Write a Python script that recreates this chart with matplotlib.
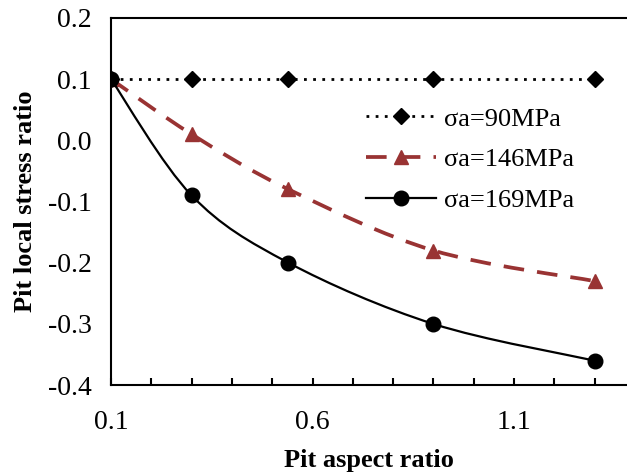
import numpy as np
import matplotlib
matplotlib.use("Agg")
import matplotlib.pyplot as plt
from matplotlib.path import Path
from matplotlib.patches import PathPatch
from matplotlib.ticker import MultipleLocator, FixedLocator

plt.rcParams['font.family'] = ['Liberation Serif', 'DejaVu Serif']

# data
aspect = [0.1, 0.3, 0.54, 0.9, 1.3]
s90 = [0.1, 0.1, 0.1, 0.1, 0.1]
s146 = [0.1, 0.01, -0.08, -0.18, -0.23]
s169 = [0.1, -0.09, -0.2, -0.3, -0.36]
labels = ['σa=90MPa', 'σa=146MPa', 'σa=169MPa']


def smooth_path(x, y):
    # Catmull-Rom style bezier, similar to Excel "smoothed line"
    x = np.asarray(x, float)
    y = np.asarray(y, float)
    verts = [(x[0], y[0])]
    codes = [Path.MOVETO]
    n = len(x)
    for i in range(n - 1):
        p0 = np.array([x[max(i - 1, 0)], y[max(i - 1, 0)]])
        p1 = np.array([x[i], y[i]])
        p2 = np.array([x[i + 1], y[i + 1]])
        p3 = np.array([x[min(i + 2, n - 1)], y[min(i + 2, n - 1)]])
        c1 = p1 + (p2 - p0) / 6.0
        c2 = p2 - (p3 - p1) / 6.0
        verts += [tuple(c1), tuple(c2), tuple(p2)]
        codes += [Path.CURVE4] * 3
    return Path(verts, codes)


fig = plt.figure(figsize=(6.27, 4.72), dpi=100)
ax = fig.add_axes([0.177, 0.184, 0.823, 0.778])

red = '#993333'
dash = (0, (5.5, 3.5))
dots = (0, (1, 2.3))

ax.plot(aspect, s90, color='black', linestyle=dots, linewidth=2,
        marker='D', markersize=8, label=labels[0], zorder=3)

ax.add_patch(PathPatch(smooth_path(aspect, s146), fill=False, edgecolor=red,
                       linewidth=2.7, linestyle=dash, zorder=3))
ax.plot(aspect, s146, linestyle='none', marker='^', color=red,
        markersize=10, zorder=4)
ax.plot([], [], color=red, linewidth=2.7, linestyle=dash,
        marker='^', markersize=10, label=labels[1])

ax.add_patch(PathPatch(smooth_path(aspect, s169), fill=False,
                       edgecolor='black', linewidth=1.6, zorder=5))
ax.plot(aspect, s169, linestyle='none', marker='o', color='black',
        markersize=10.5, zorder=6)
ax.plot([], [], color='black', linewidth=1.6, marker='o', markersize=10.5,
        label=labels[2])

ax.set_xlim(0.1, 1.38)
ax.set_ylim(-0.4, 0.2)
ax.xaxis.set_major_locator(FixedLocator([0.1, 0.6, 1.1]))
ax.xaxis.set_minor_locator(MultipleLocator(0.1))
ax.yaxis.set_major_locator(MultipleLocator(0.1))
ax.yaxis.set_major_formatter(plt.FuncFormatter(lambda v, p: '%.1f' % v))

ax.tick_params(axis='x', which='both', direction='in', length=5, width=1.5,
               labelsize=20, pad=18)
ax.tick_params(axis='y', which='both', length=0, labelsize=20, pad=14)

ax.spines['right'].set_visible(False)
for s in ['left', 'bottom', 'top']:
    ax.spines[s].set_linewidth(1.5)

ax.set_xlabel('Pit aspect ratio', fontsize=19, fontweight='bold', labelpad=10)
ax.set_ylabel('Pit local stress ratio', fontsize=19, fontweight='bold',
              labelpad=8)

ax.legend(loc='upper left', bbox_to_anchor=(0.495, 0.757), frameon=False,
          fontsize=19, handlelength=2.65, handletextpad=0.3, labelspacing=0.65,
          borderaxespad=0, borderpad=0)

fig.savefig('out.png', dpi=100)
